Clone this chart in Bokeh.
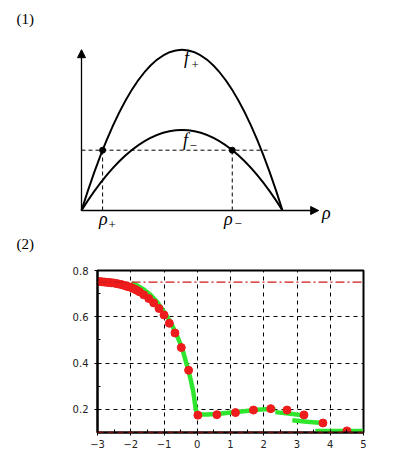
from bokeh.plotting import figure
from bokeh.layouts import column
from bokeh.models import Range1d, Arrow, NormalHead, Span, FixedTicker
from bokeh.core.properties import value
from bokeh.embed import file_html
from bokeh.resources import INLINE

# ---------------- Panel (1): schematic ----------------
peak_plus = 0.80      # apex of f+
peak_minus = 0.40     # apex of f-
level = 0.30          # dashed horizontal level
rho_plus = 0.105
rho_minus = 0.75
rho_max = 1.0

# ---------------- Panel (2): data ----------------
red_x = [-3.0, -2.93, -2.86, -2.79, -2.72, -2.65, -2.58, -2.51, -2.44, -2.37,
         -2.30, -2.23, -2.16, -2.09, -2.02, -1.95, -1.88, -1.81, -1.74,
         -1.61, -1.46, -1.31, -1.15, -1.0, -0.84, -0.67, -0.48, -0.26,
         0.02, 0.59, 1.15, 1.69, 2.21, 2.70, 3.21, 3.78, 4.50]
red_y = [0.752, 0.752, 0.751, 0.750, 0.749, 0.748, 0.747, 0.746, 0.744, 0.742,
         0.740, 0.737, 0.734, 0.731, 0.728, 0.724, 0.719, 0.714, 0.708,
         0.695, 0.679, 0.660, 0.636, 0.608, 0.572, 0.530, 0.467, 0.369,
         0.175, 0.177, 0.186, 0.197, 0.203, 0.197, 0.176, 0.141, 0.107]

green_xs = [
    [-1.98, -1.8, -1.6, -1.4, -1.2, -1.0, -0.8, -0.6, -0.45, -0.3, -0.2, -0.12, -0.05, 0.0],
    [0.0, 0.3, 0.6, 1.0, 1.4, 1.8, 2.1, 2.35],
    [2.35, 2.8, 3.2],
    [2.86, 3.3, 3.77],
    [3.55, 5.0],
]
green_ys = [
    [0.745, 0.735, 0.717, 0.694, 0.663, 0.622, 0.576, 0.516, 0.462, 0.385, 0.33, 0.277, 0.205, 0.178],
    [0.178, 0.178, 0.180, 0.186, 0.192, 0.198, 0.201, 0.200],
    [0.188, 0.181, 0.174],
    [0.153, 0.146, 0.141],
    [0.106, 0.106],
]
upper_ref = 0.75
lower_ref = 0.10
x_ticks = [-3, -2, -1, 0, 1, 2, 3, 4, 5]
y_ticks = [0.2, 0.4, 0.6, 0.8]

SERIF = "Liberation Serif"

# ---------------- figure 1 ----------------
s = 201.0  # pixels per unit
W = 406
H1 = 258
x0 = -81 / s
y0 = -48 / s
p1 = figure(width=W, height=H1, output_backend="svg", toolbar_location=None,
            x_range=Range1d(x0, x0 + W / s), y_range=Range1d(y0, y0 + H1 / s),
            x_axis_type=None, y_axis_type=None, min_border=0)
p1.frame_align = False
p1.outline_line_color = None

# axes with arrows
p1.add_layout(Arrow(x_start=0, y_start=0, x_end=1.18, y_end=0, line_width=1.3,
                    end=NormalHead(size=8, fill_color="black", line_color="black")))
p1.add_layout(Arrow(x_start=0, y_start=0, x_end=0, y_end=0.80, line_width=1.3,
                    end=NormalHead(size=8, fill_color="black", line_color="black")))

# parabolas (quadratic Bezier: control at twice the apex height)
p1.quadratic(x0=[0, 0], y0=[0, 0], x1=[rho_max, rho_max], y1=[0, 0],
             cx=[rho_max / 2, rho_max / 2], cy=[2 * peak_plus, 2 * peak_minus],
             line_color="black", line_width=2)

# dashed guides
p1.segment(x0=[0, rho_plus, rho_minus], y0=[level, 0, 0],
           x1=[0.94, rho_plus, rho_minus], y1=[level, level, level],
           line_color="black", line_width=1, line_dash="4 3")
p1.scatter(x=[rho_plus, rho_minus], y=[level, level], size=6, color="black")

def t(fig, x, y, txt, size, style="normal", align="center", font=SERIF):
    fig.text(x=[x], y=[y], text=[txt], text_font=value(font),
             text_font_size=f"{size}px", text_font_style=style,
             text_align=align, text_baseline="middle", text_color="black")

t(p1, -0.323, 0.955, "(1)", 15, align="left")
t(p1, -0.323, -0.168, "(2)", 15, align="left")
t(p1, 0.522, 0.758, "f", 18, "italic")
t(p1, 0.565, 0.722, "+", 13)
t(p1, 0.517, 0.352, "f", 18, "italic")
t(p1, 0.556, 0.322, "−", 13)
t(p1, 0.109, -0.042, "ρ", 18, "italic")
t(p1, 0.152, -0.070, "+", 13)
t(p1, 0.731, -0.042, "ρ", 18, "italic")
t(p1, 0.779, -0.066, "−", 13)
t(p1, 1.218, -0.012, "ρ", 18, "italic")

# ---------------- figure 2 ----------------
p2 = figure(width=W, height=198, output_backend="svg", toolbar_location=None,
            x_range=Range1d(-3, 5), y_range=Range1d(0.1, 0.8),
            min_border_left=97, min_border_right=43, min_border_top=12,
            min_border_bottom=24)
p2.frame_align = False
p2.outline_line_color = "black"
p2.outline_line_width = 2

p2.xaxis.ticker = FixedTicker(ticks=x_ticks, minor_ticks=[v + 0.5 for v in x_ticks[:-1]])
p2.yaxis.ticker = FixedTicker(ticks=y_ticks, minor_ticks=[0.1, 0.3, 0.5, 0.7])
for ax in (p2.xaxis[0], p2.yaxis[0]):
    ax.axis_line_width = 2
    ax.axis_line_color = "black"
    ax.major_tick_in = 3
    ax.major_tick_out = 3
    ax.minor_tick_in = 3
    ax.minor_tick_out = 0
    ax.major_label_text_font = "DejaVu Sans"
    ax.major_label_text_font_size = "10px"
    ax.major_label_text_color = "#222222"
    ax.major_tick_line_color = "black"
    ax.minor_tick_line_color = "black"
p2.xaxis.major_label_standoff = 4
p2.yaxis.major_label_standoff = 6

p2.xgrid.ticker = FixedTicker(ticks=[-2, -1, 0, 1, 2, 3, 4])
p2.ygrid.ticker = FixedTicker(ticks=[0.2, 0.4, 0.6])
for g in (p2.xgrid[0], p2.ygrid[0]):
    g.grid_line_color = "black"
    g.grid_line_dash = "4 4"
    g.grid_line_width = 1
    g.grid_line_alpha = 1

p2.add_layout(Span(location=upper_ref, dimension="width", line_color="#d01818",
                   line_width=1.2, line_dash="9 3 2 3"))
p2.add_layout(Span(location=lower_ref, dimension="width", line_color="#d01818",
                   line_width=1.5, line_dash="6 4"))

p2.multi_line(xs=green_xs, ys=green_ys, line_color="#2ee62e", line_width=4.5)
p2.scatter(x=red_x, y=red_y, size=8, fill_color="#ee1c1c", line_color="#ee1c1c")

layout = column(p1, p2, spacing=0)
open("out.html", "w").write(file_html(layout, INLINE))
